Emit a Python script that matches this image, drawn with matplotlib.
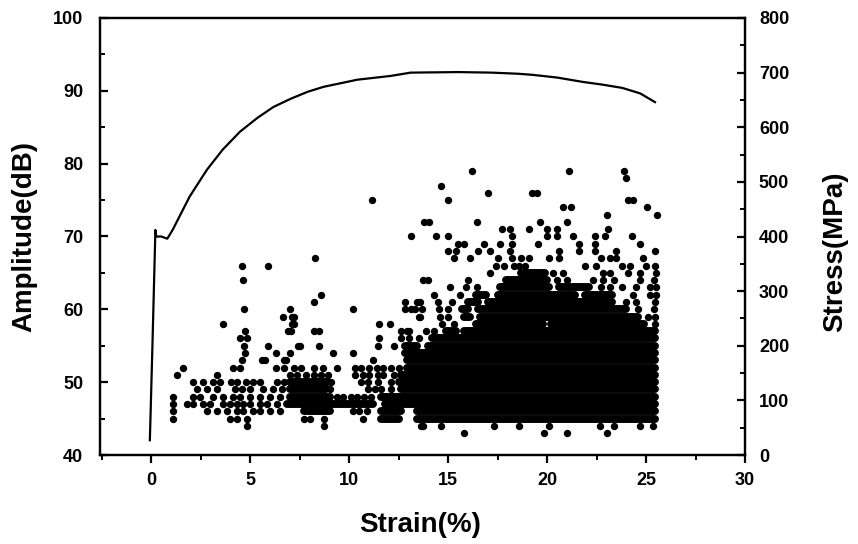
import matplotlib
matplotlib.use("Agg")
import matplotlib.pyplot as plt
from matplotlib.ticker import MultipleLocator

# ---- stress-strain curve (right axis) ----
curve_strain = [-0.08, 0.05, 0.2, 0.24, 0.5, 0.8, 1.07, 1.93, 2.8, 3.6, 4.48, 5.35,
                6.16, 7.03, 7.9, 8.7, 10.4, 12.1, 13.1, 15.5, 17.2, 18.5, 19.25,
                20.5, 21.8, 22.8, 23.8, 24.7, 25.45]
curve_stress = [27, 200, 412, 400, 400, 396, 412, 473, 522, 559, 592, 617,
                637, 652, 665, 674, 687, 694, 700, 701, 700, 698, 696,
                691, 683, 678, 672, 662, 646]

# ---- isolated AE hits: amplitude rows (dB) and the strains of the hits on each row ----
dot_row_amp = [79, 78, 77, 76, 75, 74, 73, 72, 71, 70, 69, 68, 67, 66, 65, 64, 63,
               62, 61, 60, 59, 58, 57, 56, 55, 54, 53, 52, 51, 50, 49, 48, 47, 46,
               45, 44, 43]
dot_row_strain = [
    [16.2, 21.1, 23.9],
    [24.0],
    [14.65],
    [17.0, 19.25, 19.5],
    [11.15, 15.0, 24.1, 24.35],
    [20.8, 21.2, 25.05],
    [23.0, 25.55],
    [13.8, 14.05, 16.45, 19.65, 21.0],
    [17.7, 18.1, 19.1, 20.0, 20.5, 23.06],
    [13.1, 14.36, 14.97, 18.2, 20.0, 20.5, 21.3, 22.4, 22.9, 24.3],
    [15.5, 15.8, 16.8, 17.6, 18.2, 19.55, 21.6, 22.4, 24.7],
    [15.0, 15.4, 16.5, 17.1, 18.1, 20.6, 21.6, 22.4, 23.5, 25.45],
    [8.25, 15.3, 16.1, 17.5, 18.2, 18.7, 19.1, 20.1, 20.6, 22.7, 23.2, 23.5, 24.85],
    [4.6, 5.9, 17.4, 17.8, 18.3, 18.6, 18.9, 21.9, 22.45, 23.8, 24.2, 25.0, 25.45],
    [17.1, 19.75, 20.3, 20.8, 22.8, 23.2, 24.1, 24.7, 25.5],
    [4.65, 13.75, 14.0, 16.0, 20.5, 21.0, 22.3, 22.8, 23.4, 24.7, 25.4],
    [15.1, 15.9, 16.45, 22.7, 23.2, 23.8, 24.5, 25.2, 25.5],
    [8.55, 14.3, 15.6, 24.35, 25.2, 25.5],
    [8.2, 12.8, 13.4, 13.55, 14.5, 15.2, 24.0, 24.5, 25.45],
    [4.7, 7.0, 10.2, 12.8, 13.1, 13.3, 13.65, 14.55, 15.0, 24.6, 25.4],
    [6.65, 7.1, 7.2, 13.5, 13.55, 14.6, 15.0, 25.1, 25.45],
    [3.6, 7.1, 7.2, 11.5, 12.05, 14.7, 15.3, 25.45],
    [4.75, 6.9, 7.05, 8.2, 8.45, 12.6, 12.9, 13.0, 13.9, 14.3],
    [4.5, 4.85, 11.5, 12.6, 13.0, 13.5],
    [4.7, 5.9, 7.4, 7.5, 8.45, 11.45, 12.25],
    [4.75, 6.3, 7.0, 9.2, 10.2],
    [4.6, 5.6, 5.75, 6.7, 6.8, 11.2],
    [1.6, 4.1, 4.5, 6.3, 6.7, 7.2, 7.55, 8.2, 8.65, 9.4, 10.3, 10.6, 11.0, 11.4,
     11.7, 12.1, 12.5],
    [1.27, 3.3, 7.0, 7.35, 7.8, 8.2, 8.55, 8.9, 10.3, 10.7, 11.0, 11.45, 11.7, 12.25],
    [2.1, 2.6, 3.1, 3.45, 4.0, 4.3, 4.8, 5.15, 5.5, 6.35, 6.7, 9.1, 10.6, 10.95,
     11.45, 12.1],
    [2.3, 2.8, 3.3, 4.2, 4.6, 5.0, 5.65, 6.15, 6.6, 9.05, 10.95, 11.3, 11.6, 12.1],
    [1.07, 2.09, 2.44, 3.1, 3.6, 4.1, 4.5, 4.99, 5.5, 6.0, 6.5, 9.4, 9.7, 10.1,
     10.4, 10.75, 11.1],
    [1.07, 1.78, 2.09, 2.6, 2.95, 3.6, 3.97, 4.33, 4.63, 4.99, 5.5, 5.86, 6.36],
    [1.07, 2.8, 3.3, 3.8, 4.33, 4.63, 5.14, 5.5, 6.0, 6.5, 10.2, 10.5, 10.9],
    [1.07, 3.97, 4.33, 4.84, 7.7, 8.0, 8.7, 10.7],
    [4.85, 8.7, 13.6, 13.75, 14.65, 17.3, 18.6, 20.1, 22.65, 23.4, 24.7, 25.35],
    [15.8, 19.85, 21.0, 23.05],
]

# ---- runs of hits so dense that they merge into one band (amplitude, strain from, strain to) ----
run_amp  = [65, 64, 63, 63, 62, 62, 62, 61, 61, 60, 60, 59, 59, 58, 58, 57, 57,
            56, 55, 55, 54, 53, 52, 51, 50, 50, 49, 49, 48, 48, 47, 47,
            46, 46, 46, 45, 45]
run_from = [18.7, 17.9, 17.6, 20.6, 16.4, 17.5, 21.9, 16.0, 17.0, 15.7, 16.5,
            15.8, 16.6, 16.4, 20.2, 14.9, 15.8, 14.2, 12.8, 14.0, 12.8, 12.9,
            12.9, 12.6, 7.0, 12.5, 7.0, 12.6, 7.0, 11.6, 6.87, 11.8,
            7.7, 11.6, 13.4, 11.6, 13.4]
run_to   = [19.9, 20.0, 20.1, 22.1, 16.9, 21.4, 23.3, 16.5, 23.3, 16.0, 24.0,
            16.1, 24.6, 19.8, 24.9, 15.4, 25.45, 25.45, 13.4, 25.45, 25.45, 25.45,
            25.45, 25.45, 8.9, 25.45, 8.8, 25.45, 9.0, 25.45, 11.2, 25.45,
            9.0, 12.6, 25.45, 12.5, 25.45]

x_ticks = [0, 5, 10, 15, 20, 25, 30]
amp_ticks = [40, 50, 60, 70, 80, 90, 100]
stress_ticks = [0, 100, 200, 300, 400, 500, 600, 700, 800]

FONT = "Liberation Sans"
W, H = 858, 544

fig = plt.figure(figsize=(W / 100, H / 100), dpi=100)
ax = fig.add_axes([100 / W, 1 - 455 / H, 645 / W, 437 / H])
ax2 = ax.twinx()

# scatter dots
xs, ys = [], []
for a, row in zip(dot_row_amp, dot_row_strain):
    for s in row:
        xs.append(s)
        ys.append(a)
ms = 5.3
ax.plot(xs, ys, linestyle="none", marker="o", ms=ms, color="black", mec="none")
lc = ax.hlines(run_amp, run_from, run_to, colors="black", linewidth=5.7)
lc.set_capstyle("round")

# stress curve
ax2.plot(curve_strain, curve_stress, color="black", lw=1.6)

ax.set_xlim(-2.6, 30)
ax.set_ylim(40, 100)
ax2.set_ylim(0, 800)

ax.set_xticks(x_ticks)
ax.set_yticks(amp_ticks)
ax2.set_yticks(stress_ticks)
ax.xaxis.set_minor_locator(MultipleLocator(2.5))
ax.yaxis.set_minor_locator(MultipleLocator(5))
ax2.yaxis.set_minor_locator(MultipleLocator(50))

for a in (ax, ax2):
    for sp in a.spines.values():
        sp.set_linewidth(1.6)

ax.tick_params(axis="x", which="major", direction="out", length=6, width=1.6, top=False,
               pad=6)
ax.tick_params(axis="x", which="minor", direction="out", length=3.5, width=1.4, top=False)
ax.tick_params(axis="y", which="major", direction="in", length=6, width=1.6, pad=12)
ax.tick_params(axis="y", which="minor", direction="in", length=3.5, width=1.4)
ax2.tick_params(axis="y", which="major", direction="in", length=6, width=1.6, pad=10)
ax2.tick_params(axis="y", which="minor", direction="in", length=3.5, width=1.4)

for lab in ax.get_xticklabels() + ax.get_yticklabels() + ax2.get_yticklabels():
    lab.set_fontfamily(FONT)
    lab.set_fontweight("bold")
    lab.set_fontsize(13)

fig.text(24 / W, 1 - 236 / H, "Amplitude(dB)", rotation=90, ha="center", va="center",
         fontsize=20, fontweight="bold", family=FONT)
fig.text(835 / W, 1 - 252 / H, "Stress(MPa)", rotation=90, ha="center", va="center",
         fontsize=20, fontweight="bold", family=FONT)
fig.text(420 / W, 1 - 525 / H, "Strain(%)", ha="center", va="center",
         fontsize=20, fontweight="bold", family=FONT)

fig.savefig("out.png", dpi=100, facecolor="white")
